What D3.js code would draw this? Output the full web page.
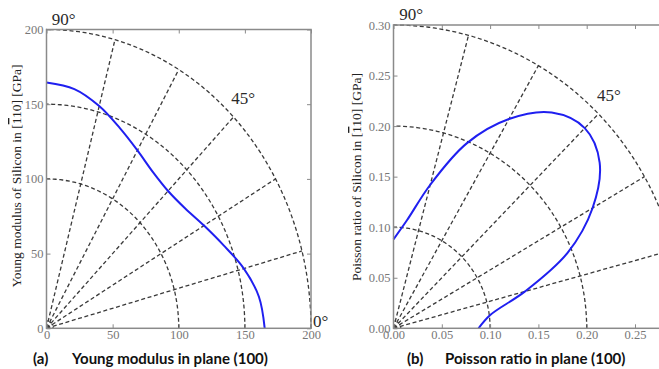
<!DOCTYPE html>
<html>
<head>
<meta charset="utf-8">
<script src="https://cdn.jsdelivr.net/npm/d3@7"></script>
<style>
  body { margin: 0; background: #fff; }
  svg { display: block; }
</style>
</head>
<body>
<script>
// Chart values
const angles = [0, 7.5, 15, 22.5, 30, 37.5, 45, 52.5, 60, 67.5, 75, 82.5, 90];
const youngModulus = [165, 162, 154.5, 145, 137.5, 132, 130, 132, 137.5, 145, 154, 161.5, 164.5];
const poissonRatio = [0.088, 0.101, 0.141, 0.195, 0.238, 0.269, 0.28, 0.269, 0.239, 0.198, 0.147, 0.108, 0.088];

const youngTicks = [0, 50, 100, 150, 200];
const poissonTicks = [0, 0.05, 0.1, 0.15, 0.2, 0.25, 0.3];
const youngRings = [100, 150, 200];
const poissonRings = [0.1, 0.2, 0.3];
const spokeAngles = [15, 30, 45, 60, 75];

const width = 659;
const height = 369;

const svg = d3
  .select("body")
  .append("svg")
  .attr("width", width)
  .attr("height", height)
  .attr("viewBox", `0 0 ${width} ${height}`);

const serif = "'Liberation Serif', 'DejaVu Serif', serif";
const toRad = (deg) => (deg * Math.PI) / 180;

function drawPanel(cfg) {
  const x = d3.scaleLinear().domain([0, cfg.max]).range(cfg.xRange);
  const y = d3.scaleLinear().domain([0, cfg.max]).range(cfg.yRange);
  const g = svg.append("g");

  // polar point -> screen
  const polar = (r, deg) => [x(r * Math.cos(toRad(deg))), y(r * Math.sin(toRad(deg)))];

  // dashed grid: rings and spokes
  const ring = d3.line();
  cfg.rings.concat([cfg.tiny]).forEach((r) => {
    g.append("path")
      .attr("d", ring(d3.range(0, 90.5, 1).map((a) => polar(r, a))))
      .attr("fill", "none")
      .attr("stroke", "#3a3a3a")
      .attr("stroke-width", 1.3)
      .attr("stroke-dasharray", r === cfg.tiny ? "1.5,1.5" : "4,2.6");
  });
  spokeAngles.forEach((a) => {
    g.append("path")
      .attr("d", ring([polar(0, a), polar(cfg.max, a)]))
      .attr("stroke", "#3a3a3a")
      .attr("stroke-width", 1.3)
      .attr("stroke-dasharray", "4,2.6");
  });

  // the curve
  const curve = d3
    .line()
    .x((d) => x(d.r * Math.cos(toRad(d.a))))
    .y((d) => y(d.r * Math.sin(toRad(d.a))))
    .curve(d3.curveCatmullRom.alpha(0.5));
  g.append("path")
    .datum(angles.map((a, i) => ({ a, r: cfg.values[i] })))
    .attr("d", curve)
    .attr("fill", "none")
    .attr("stroke", "#1f1ff0")
    .attr("stroke-width", 2);

  // frame
  g.append("rect")
    .attr("x", x(0))
    .attr("y", y(cfg.max))
    .attr("width", x(cfg.max) - x(0))
    .attr("height", y(0) - y(cfg.max))
    .attr("fill", "none")
    .attr("stroke", "#8a8a8a")
    .attr("stroke-width", 1.5);

  // axes with inward ticks
  const styleAxis = (sel) => {
    sel.select(".domain").remove();
    sel.selectAll(".tick line").attr("stroke", "#8a8a8a");
    sel.selectAll("text")
      .attr("fill", "#777")
      .style("font-family", serif)
      .style("font-size", "12.5px");
  };
  const fmt = cfg.format;
  // x labels only where the picture still shows them
  const xFmt = (d) => (x(d) < width - 12 ? fmt(d) : "");
  g.append("g")
    .attr("transform", `translate(0,${y(0)})`)
    .call(d3.axisBottom(x).tickValues(cfg.ticks).tickSize(-4).tickPadding(2).tickFormat(xFmt))
    .call(styleAxis);
  g.append("g")
    .attr("transform", `translate(${x(0)},0)`)
    .call(d3.axisLeft(y).tickValues(cfg.ticks).tickSize(-4).tickPadding(3).tickFormat(fmt))
    .call(styleAxis);
  g.append("g")
    .attr("transform", `translate(0,${y(cfg.max)})`)
    .call(d3.axisTop(x).tickValues(cfg.ticks).tickSize(-4).tickFormat(""))
    .call(styleAxis);
  g.append("g")
    .attr("transform", `translate(${x(cfg.max)},0)`)
    .call(d3.axisRight(y).tickValues(cfg.ticks).tickSize(-4).tickFormat(""))
    .call(styleAxis);

  // angle labels
  const degStyle = (t) =>
    t.attr("fill", "#2a2a2a").style("font-family", serif).style("font-size", "17px");
  g.append("text")
    .attr("x", x(cfg.max * 0.02))
    .attr("y", y(cfg.max * 1.015))
    .text("90°")
    .call(degStyle);
  const p45 = polar(cfg.max * 1.07, 46);
  g.append("text")
    .attr("x", p45[0])
    .attr("y", p45[1])
    .attr("text-anchor", "middle")
    .attr("dy", "0.35em")
    .text("45°")
    .call(degStyle);
  if (x(cfg.max * 1.008) < width - 20) {
    g.append("text")
      .attr("x", x(cfg.max * 1.008))
      .attr("y", y(0))
      .attr("dy", "-0.05em")
      .text("0°")
      .call(degStyle);
  }

  // rotated y label
  const yl = g.append("text")
    .attr("transform", `translate(${cfg.yLabelX},${cfg.yLabelY}) rotate(-90)`)
    .attr("text-anchor", "middle")
    .attr("fill", "#222")
    .style("font-family", serif)
    .style("font-size", "13.5px");
  yl.append("tspan").text(cfg.yLabel);
  yl.append("tspan").text("1").style("text-decoration", "overline");
  yl.append("tspan").text("10] [GPa]");

  // caption below the panel
  const capStyle = (t) =>
    t.attr("fill", "#111")
      .style("font-family", "Lato, 'Open Sans', sans-serif")
      .style("font-weight", "bold")
      .style("font-size", "15px");
  g.append("text").attr("x", cfg.capX[0]).attr("y", 364).text(cfg.capTag).call(capStyle);
  g.append("text").attr("x", cfg.capX[1]).attr("y", 364).text(cfg.caption).call(capStyle);
}

drawPanel({
  max: 200,
  xRange: [46.5, 311],
  yRange: [328.3, 29.5],
  values: youngModulus,
  ticks: youngTicks,
  rings: youngRings,
  tiny: 5,
  format: d3.format("d"),
  yLabel: "Young modulus of Silicon in [",
  yLabelX: 21,
  yLabelY: 176,
  capTag: "(a)",
  caption: "Young modulus in plane (100)",
  capX: [33, 72],
});

drawPanel({
  max: 0.3,
  xRange: [393.5, 683.3],
  yRange: [328.3, 25],
  values: poissonRatio,
  ticks: poissonTicks,
  rings: poissonRings,
  tiny: 0.0075,
  format: d3.format(".2f"),
  yLabel: "Poisson ratio of Silicon in [",
  yLabelX: 361,
  yLabelY: 177,
  capTag: "(b)",
  caption: "Poisson ratio in plane (100)",
  capX: [407, 445],
});
</script>
</body>
</html>
